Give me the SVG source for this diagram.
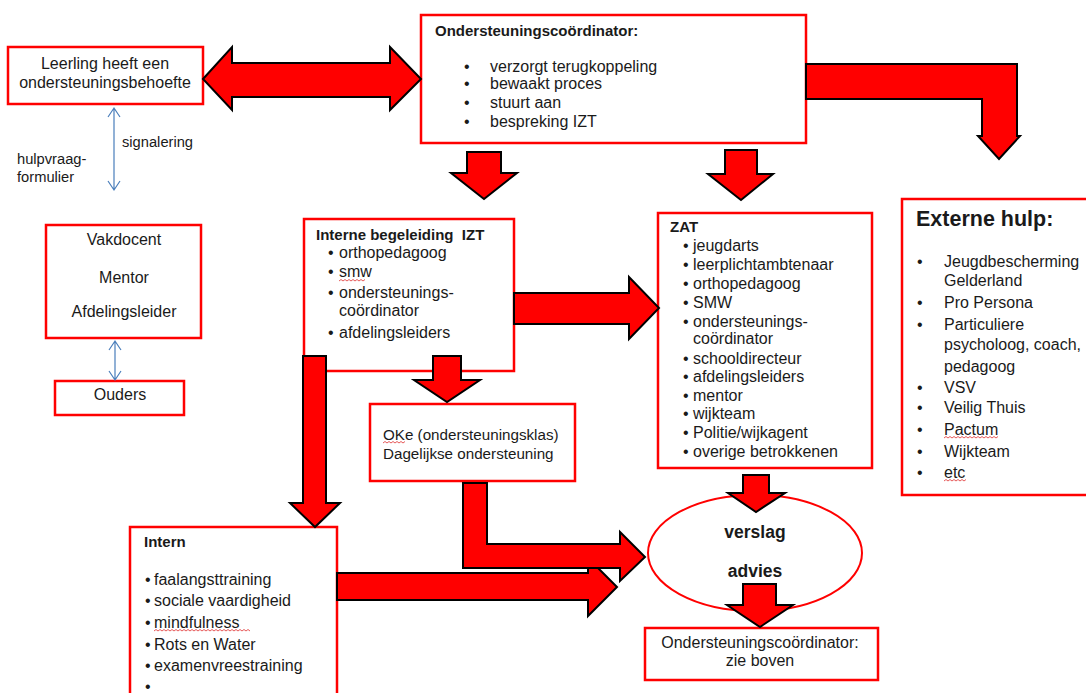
<svg xmlns="http://www.w3.org/2000/svg" width="1086" height="693" viewBox="0 0 1086 693">
<defs>
<style>
.box{fill:#fff;stroke:#ff0000;stroke-width:2.5}
.arr{fill:#ff0000;stroke:#000;stroke-width:2;stroke-linejoin:miter}
.t{font-family:"Liberation Sans",Arial,sans-serif;font-size:16px;fill:#1a1a1a}
.b{font-weight:bold;font-size:15px}
.c{text-anchor:middle}
.s{font-size:14.7px}
.blue{fill:none;stroke:#4a7ebb;stroke-width:1.2}
.sq{fill:none;stroke:#e03030;stroke-width:0.8}
</style>
</defs>
<rect width="1086" height="693" fill="#fff"/>

<g id="nodes">
<g id="leerling">
<rect class="box" x="8" y="47" width="195" height="57"/>
<text class="t c" x="105" y="69">Leerling heeft een</text>
<text class="t c" x="105" y="88">ondersteuningsbehoefte</text>
</g>
<g id="coordinator">
<rect class="box" x="421" y="15" width="385" height="128"/>
<text class="t b" x="435" y="36">Ondersteuningscoördinator:</text>
<text class="t" x="464" y="72">•</text><text class="t" x="490" y="72">verzorgt terugkoppeling</text>
<text class="t" x="464" y="89">•</text><text class="t" x="490" y="89">bewaakt proces</text>
<text class="t" x="464" y="108">•</text><text class="t" x="490" y="108">stuurt aan</text>
<text class="t" x="464" y="127">•</text><text class="t" x="490" y="127">bespreking IZT</text>
</g>
<g id="externe">
<rect class="box" x="902" y="199" width="200" height="296"/>
<text class="t b" x="916" y="226" style="font-size:21.5px">Externe hulp:</text>
<g class="t">
<text x="917" y="267">•</text><text x="944" y="267">Jeugdbescherming</text>
<text x="944" y="286">Gelderland</text>
<text x="917" y="308">•</text><text x="944" y="308">Pro Persona</text>
<text x="917" y="330">•</text><text x="944" y="330">Particuliere</text>
<text x="944" y="350">psycholoog, coach,</text>
<text x="944" y="372">pedagoog</text>
<text x="917" y="393">•</text><text x="944" y="393">VSV</text>
<text x="917" y="413">•</text><text x="944" y="413">Veilig Thuis</text>
<text x="917" y="435">•</text><text x="944" y="435">Pactum</text>
<text x="917" y="457">•</text><text x="944" y="457">Wijkteam</text>
<text x="917" y="478">•</text><text x="944" y="478">etc</text>
</g>
</g>
<g id="izt">
<rect class="box" x="304" y="219" width="210" height="152"/>
<text class="t b" x="316" y="240" xml:space="preserve">Interne begeleiding  IZT</text>
<g class="t">
<text x="328" y="258">•</text><text x="339" y="258">orthopedagoog</text>
<text x="328" y="277">•</text><text x="339" y="277">smw</text>
<text x="328" y="298">•</text><text x="339" y="298">ondersteunings-</text>
<text x="339" y="316">coördinator</text>
<text x="328" y="338">•</text><text x="339" y="338">afdelingsleiders</text>
</g>
</g>
<g id="zat">
<rect class="box" x="658" y="213" width="214" height="255"/>
<text class="t b" x="670" y="232">ZAT</text>
<g class="t">
<text x="683" y="251">•</text><text x="693" y="251">jeugdarts</text>
<text x="683" y="270">•</text><text x="693" y="270">leerplichtambtenaar</text>
<text x="683" y="289">•</text><text x="693" y="289">orthopedagoog</text>
<text x="683" y="308">•</text><text x="693" y="308">SMW</text>
<text x="683" y="327">•</text><text x="693" y="327">ondersteunings-</text>
<text x="693" y="344">coördinator</text>
<text x="683" y="364">•</text><text x="693" y="364">schooldirecteur</text>
<text x="683" y="382">•</text><text x="693" y="382">afdelingsleiders</text>
<text x="683" y="401">•</text><text x="693" y="401">mentor</text>
<text x="683" y="419">•</text><text x="693" y="419">wijkteam</text>
<text x="683" y="438">•</text><text x="693" y="438">Politie/wijkagent</text>
<text x="683" y="457">•</text><text x="693" y="457">overige betrokkenen</text>
</g>
</g>
<g id="vakdocent">
<rect class="box" x="46" y="225" width="155" height="113"/>
<text class="t c" x="124" y="245">Vakdocent</text>
<text class="t c" x="124" y="283">Mentor</text>
<text class="t c" x="124" y="317">Afdelingsleider</text>
</g>
<g id="ouders">
<rect class="box" x="55" y="381" width="129" height="34"/>
<text class="t c" x="120" y="400">Ouders</text>
</g>
<g id="oke">
<rect class="box" x="370" y="404" width="205" height="77"/>
<text class="t" x="383" y="440" style="font-size:15.2px">OKe (ondersteuningsklas)</text>
<text class="t" x="383" y="459" style="font-size:15.2px">Dagelijkse ondersteuning</text>
</g>
<g id="intern">
<rect class="box" x="130" y="527" width="207" height="200"/>
<text class="t b" x="144" y="547">Intern</text>
<g class="t">
<text x="145" y="585">•</text><text x="154" y="585">faalangsttraining</text>
<text x="145" y="606">•</text><text x="154" y="606">sociale vaardigheid</text>
<text x="145" y="628">•</text><text x="154" y="628">mindfulness</text>
<text x="145" y="650">•</text><text x="154" y="650">Rots en Water</text>
<text x="145" y="671">•</text><text x="154" y="671">examenvreestraining</text>
<text x="145" y="692">•</text>
</g>
</g>
<g id="verslag">
<ellipse cx="755" cy="553" rx="107" ry="58" fill="#fff" stroke="#ff0000" stroke-width="2"/>
<text class="t b c" x="755" y="538" style="font-size:17.5px">verslag</text>
<text class="t b c" x="755" y="577" style="font-size:17.5px">advies</text>
</g>
<g id="zieboven">
<rect class="box" x="645" y="628" width="233" height="52"/>
<text class="t c" x="760" y="648">Ondersteuningscoördinator:</text>
<text class="t c" x="760" y="666">zie boven</text>
</g>
</g>

<g id="squiggles">
<path class="sq" d="M339 281 l2 -1.5 l2 1.5 l2 -1.5 l2 1.5 l2 -1.5 l2 1.5 l2 -1.5 l2 1.5 l2 -1.5 l2 1.5 l2 -1.5 l2 1.5 l2 -1.5"/>
<path class="sq" d="M154 631 l2 -1.5 l2 1.5 l2 -1.5 l2 1.5 l2 -1.5 l2 1.5 l2 -1.5 l2 1.5 l2 -1.5 l2 1.5 l2 -1.5 l2 1.5 l2 -1.5 l2 1.5 l2 -1.5 l2 1.5 l2 -1.5 l2 1.5 l2 -1.5 l2 1.5 l2 -1.5 l2 1.5 l2 -1.5 l2 1.5 l2 -1.5 l2 1.5 l2 -1.5 l2 1.5 l2 -1.5 l2 1.5 l2 -1.5 l2 1.5 l2 -1.5 l2 1.5 l2 -1.5 l2 1.5 l2 -1.5 l2 1.5 l2 -1.5 l2 1.5 l2 -1.5 l2 1.5 l2 -1.5 l2 1.5 l2 -1.5 l2 1.5 l2 -1.5 l2 1.5"/>
<path class="sq" d="M383 443 l2 -1.5 l2 1.5 l2 -1.5 l2 1.5 l2 -1.5 l2 1.5 l2 -1.5 l2 1.5 l2 -1.5 l2 1.5 l2 -1.5"/>
<path class="sq" d="M944 438 l2 -1.5 l2 1.5 l2 -1.5 l2 1.5 l2 -1.5 l2 1.5 l2 -1.5 l2 1.5 l2 -1.5 l2 1.5 l2 -1.5 l2 1.5 l2 -1.5 l2 1.5 l2 -1.5 l2 1.5 l2 -1.5 l2 1.5 l2 -1.5 l2 1.5 l2 -1.5 l2 1.5 l2 -1.5 l2 1.5 l2 -1.5 l2 1.5 l2 -1.5"/>
<path class="sq" d="M944 481 l2 -1.5 l2 1.5 l2 -1.5 l2 1.5 l2 -1.5 l2 1.5 l2 -1.5 l2 1.5 l2 -1.5 l2 1.5 l2 -1.5"/>
</g>

<g id="connectors">
<polygon class="arr" points="203,79 232,47 232,63 390,63 390,47 421,79 390,110 390,97 232,97 232,110"/>
<polygon class="arr" points="467,152 501,152 501,173 517,173 484,199 451,173 467,173"/>
<polygon class="arr" points="725,150 757,150 757,174 773,174 741,200 708,174 725,174"/>
<polygon class="arr" points="806,64 1017,64 1017,136 1020,136 999,159 978,136 982,136 982,99 806,99"/>
<polygon class="arr" points="514,293 629,293 629,277 659,308 629,339 629,324 514,324"/>
<polygon class="arr" points="433,356 461,356 461,380 480,380 447,402 414,380 433,380"/>
<polygon class="arr" points="303,356 326,356 326,503 340,503 315,527 290,503 303,503"/>
<polygon class="arr" points="337,573 588,573 588,558 617,587 588,616 588,600 337,600"/>
<polygon class="arr" points="463,483 487,483 487,544 620,544 620,532 645,557 620,581 620,568 463,568"/>
<polygon class="arr" points="743,475 769,475 769,493 785,493 756,512 728,493 743,493"/>
<polygon class="arr" points="743,584 776,584 776,605 793,605 760,627 727,605 743,605"/>
<g id="blue-arrows">
<path class="blue" d="M114 108 V190 M108 117 L114 108 L120 117 M108 181 L114 190 L120 181"/>
<path class="blue" d="M115 341 V380 M109 350 L115 341 L121 350 M109 371 L115 380 L121 371"/>
</g>
</g>
<text class="t s" x="122" y="147">signalering</text>
<text class="t s" x="17" y="164">hulpvraag-</text>
<text class="t s" x="17" y="182">formulier</text>
</svg>
